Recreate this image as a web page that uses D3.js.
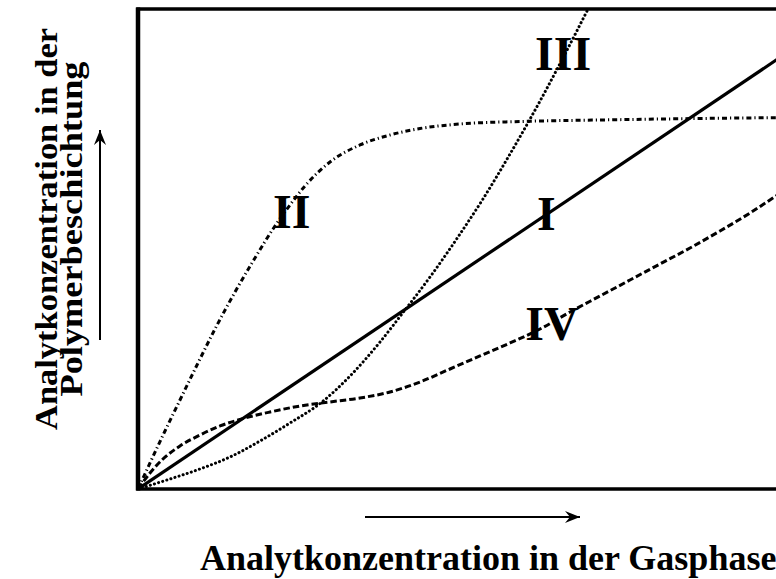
<!DOCTYPE html>
<html>
<head>
<meta charset="utf-8">
<script src="https://cdn.jsdelivr.net/npm/d3@7"></script>
<style>
  html, body { margin: 0; padding: 0; background: #fff; overflow: hidden; }
  text { font-family: "Liberation Serif", "Times New Roman", serif; font-weight: bold; fill: #000; }
</style>
</head>
<body>
<div id="chart"></div>
<script>
// ---- data (arbitrary units, 0..100 on both axes) ----
const curveI = [[0, 0], [100, 91.3]];
const curveII = [[0, 0], [1.84, 5.42], [4.14, 12.08], [6.44, 18.54], [9.05, 25.83], [11.81, 33.33],
  [14.88, 41.04], [17.94, 48.13], [20.71, 54.17], [23.31, 59.17], [25.61, 63.13], [29.45, 68.13],
  [34.05, 71.67], [38.65, 73.75], [43.25, 75.10], [49.39, 76.04], [58.59, 76.56], [70.86, 76.88],
  [86.20, 77.19], [100, 77.40]];
const curveIII = [[0, 0], [4.91, 2.08], [9.51, 4.17], [14.11, 6.67], [18.71, 10.0], [23.31, 13.75],
  [28.22, 18.13], [32.52, 23.54], [37.12, 30.63], [40.95, 37.29], [44.79, 44.17], [49.39, 53.13],
  [52.91, 60.42], [57.06, 69.79], [61.66, 80.83], [65.49, 90.63], [69.33, 100.83]];
const curveIV = [[0, 0], [1.84, 3.33], [3.83, 6.25], [6.44, 8.96], [9.51, 11.25], [12.58, 13.13],
  [16.41, 14.79], [20.25, 16.04], [24.85, 17.29], [29.45, 18.13], [34.05, 18.96], [38.65, 20.21],
  [43.25, 22.29], [47.85, 25.0], [52.45, 27.71], [57.06, 30.42], [61.66, 33.33], [66.26, 36.88],
  [70.86, 40.21], [75.46, 43.54], [80.06, 46.88], [84.66, 50.21], [89.26, 53.75], [93.87, 57.50],
  [97.85, 61.04], [100, 62.92]];
const labelNames = ["I", "II", "III", "IV"];
const labelPos = [[61.2, 54.0], [20.7, 54.4], [60.9, 87.3], [59.4, 31.0]];
const xTitle = "Analytkonzentration in der Gasphase";
const yTitle = ["Analytkonzentration in der", "Polymerbeschichtung"];

// ---- layout ----
const W = 776, H = 579;
const plot = { left: 138, top: 9, right: 790, bottom: 489 };

const svg = d3.select("#chart").append("svg")
  .attr("width", W).attr("height", H);

const x = d3.scaleLinear().domain([0, 100]).range([plot.left, plot.right]);
const y = d3.scaleLinear().domain([0, 100]).range([plot.bottom, plot.top]);

const defs = svg.append("defs");
defs.append("clipPath").attr("id", "clip")
  .append("rect")
  .attr("x", plot.left).attr("y", plot.top)
  .attr("width", plot.right - plot.left).attr("height", plot.bottom - plot.top);

defs.append("marker")
  .attr("id", "arrow")
  .attr("viewBox", "-16 -8 18 16")
  .attr("refX", 0).attr("refY", 0)
  .attr("markerWidth", 18).attr("markerHeight", 16)
  .attr("markerUnits", "userSpaceOnUse")
  .attr("orient", "auto")
  .append("path")
  .attr("d", "M0,0 L-15,-6 L-10,0 L-15,6 Z")
  .attr("fill", "#000");

const line = d3.line()
  .x(d => x(d[0]))
  .y(d => y(d[1]))
  .curve(d3.curveMonotoneX);

const series = [
  { data: curveI, dash: null, width: 3.2, cap: "butt" },
  { data: curveII, dash: "5,3,1.2,3", width: 3, cap: "butt" },
  { data: curveIII, dash: "0.1,4.2", width: 3, cap: "round" },
  { data: curveIV, dash: "6.5,3", width: 3, cap: "butt" }
];

const g = svg.append("g").attr("clip-path", "url(#clip)");
g.selectAll("path")
  .data(series)
  .join("path")
  .attr("d", d => line(d.data))
  .attr("fill", "none")
  .attr("stroke", "#000")
  .attr("stroke-width", d => d.width)
  .attr("stroke-linecap", d => d.cap)
  .attr("stroke-dasharray", d => d.dash);

// frame (left side drawn a bit heavier, as in the scan)
svg.append("rect")
  .attr("x", plot.left).attr("y", plot.top)
  .attr("width", plot.right - plot.left).attr("height", plot.bottom - plot.top)
  .attr("fill", "none").attr("stroke", "#000").attr("stroke-width", 3.5);
svg.append("line")
  .attr("x1", plot.left).attr("x2", plot.left)
  .attr("y1", plot.top - 1.5).attr("y2", plot.bottom + 1.5)
  .attr("stroke", "#000").attr("stroke-width", 4.5);

// curve labels
svg.selectAll(".lbl")
  .data(labelNames)
  .join("text")
  .attr("class", "lbl")
  .attr("x", (d, i) => x(labelPos[i][0]))
  .attr("y", (d, i) => y(labelPos[i][1]))
  .attr("font-size", "48px")
  .text(d => d);

// x axis title + arrow
svg.append("line")
  .attr("x1", 365).attr("x2", 580).attr("y1", 517).attr("y2", 517)
  .attr("stroke", "#000").attr("stroke-width", 2)
  .attr("marker-end", "url(#arrow)");

svg.append("text")
  .attr("x", 200).attr("y", 570)
  .attr("font-size", "36px")
  .text(xTitle);

// y axis title + arrow
svg.append("line")
  .attr("x1", 100).attr("x2", 100).attr("y1", 340).attr("y2", 130)
  .attr("stroke", "#000").attr("stroke-width", 2)
  .attr("marker-end", "url(#arrow)");

const yLens = [402, 335];
const yBase = [57, 82];
yTitle.forEach((t, i) => {
  svg.append("text")
    .attr("transform", `translate(${yBase[i]},229) rotate(-90)`)
    .attr("text-anchor", "middle")
    .attr("font-size", "31px")
    .attr("textLength", yLens[i])
    .attr("lengthAdjust", "spacingAndGlyphs")
    .text(t);
});
</script>
</body>
</html>
